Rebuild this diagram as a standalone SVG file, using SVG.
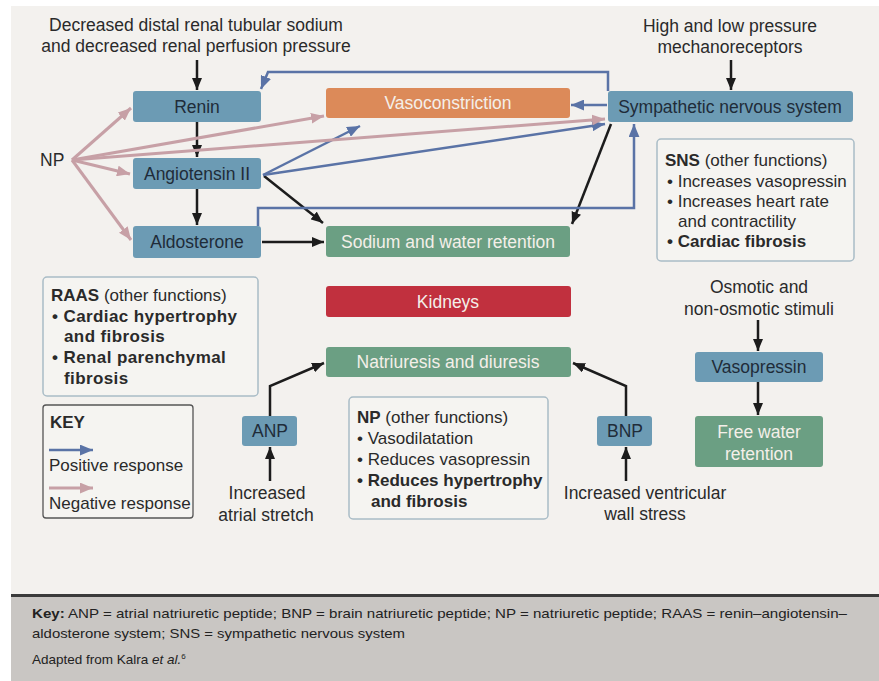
<svg xmlns="http://www.w3.org/2000/svg" width="879" height="681" viewBox="0 0 879 681">
<defs>
<marker id="hk" viewBox="0 0 12 10" refX="12" refY="5" markerWidth="12" markerHeight="10" orient="auto" markerUnits="userSpaceOnUse"><path d="M0,0 L12,5 L0,10 z" fill="#1c1c1c"/></marker>
<marker id="hb" viewBox="0 0 12 10" refX="12" refY="5" markerWidth="13" markerHeight="11" orient="auto" markerUnits="userSpaceOnUse"><path d="M0,0 L12,5 L0,10 z" fill="#5a73a6"/></marker>
<marker id="hp" viewBox="0 0 12 10" refX="12" refY="5" markerWidth="13" markerHeight="11" orient="auto" markerUnits="userSpaceOnUse"><path d="M0,0 L12,5 L0,10 z" fill="#c7a0a6"/></marker>
</defs>
<style>
text{font-family:"Liberation Sans",Arial,sans-serif;font-size:17.5px;fill:#2a2a2a}
.c{text-anchor:middle}
.dk{fill:#1f2c39}
.wt{fill:#f4efe9}
.b{font-weight:bold}
.i{font-size:17px}
.bw{letter-spacing:0.4px}
.nb{fill:#6c9bb4}
.ng{fill:#6b9f83}
.ln{fill:none;stroke-linejoin:miter}
.k{stroke:#1c1c1c;stroke-width:2.5;marker-end:url(#hk)}
.bl{stroke:#5a73a6;stroke-width:2.5;marker-end:url(#hb)}
.pk{stroke:#c7a0a6;stroke-width:3;marker-end:url(#hp)}
.info{fill:#f5f4f1;stroke:#a9bcc6;stroke-width:1.5}
.ft{font-size:13.5px;fill:#222}
</style>
<rect x="0" y="0" width="879" height="681" fill="#ffffff"/>
<rect x="11" y="6" width="868" height="589" fill="#f3f1ee"/>
<rect x="11" y="594" width="868" height="3.5" fill="#3a3a3a"/>
<rect x="11" y="597" width="868" height="84" fill="#c9c6c3"/>

<g id="top-left-label">
<text class="c" x="196" y="31">Decreased distal renal tubular sodium</text>
<text class="c" x="196" y="52">and decreased renal perfusion pressure</text>
</g>
<g id="top-right-label">
<text class="c" x="730" y="32">High and low pressure</text>
<text class="c" x="730" y="53">mechanoreceptors</text>
</g>
<g id="np-label"><text x="40" y="166">NP</text></g>

<g id="renin"><rect class="nb" x="133" y="91" width="128" height="31" rx="3"/><text class="c dk" x="197" y="113">Renin</text></g>
<g id="angiotensin"><rect class="nb" x="133" y="158" width="128" height="31" rx="3"/><text class="c dk" x="197" y="180">Angiotensin II</text></g>
<g id="aldosterone"><rect class="nb" x="133" y="226" width="128" height="32" rx="3"/><text class="c dk" x="197" y="248">Aldosterone</text></g>
<g id="vasoconstriction"><rect fill="#dc8a59" x="326" y="88" width="244" height="30" rx="3"/><text class="c wt" x="448" y="109">Vasoconstriction</text></g>
<g id="sodium"><rect class="ng" x="326" y="226" width="244" height="31" rx="3"/><text class="c wt" x="448" y="248">Sodium and water retention</text></g>
<g id="sns"><rect class="nb" x="608" y="91" width="245" height="31" rx="3"/><text class="c dk" x="730" y="113">Sympathetic nervous system</text></g>
<g id="kidneys"><rect fill="#c1303e" x="326" y="286" width="245" height="31" rx="3"/><text class="c wt" x="448" y="308">Kidneys</text></g>
<g id="natriuresis"><rect class="ng" x="326" y="347" width="245" height="30" rx="3"/><text class="c wt" x="448" y="368">Natriuresis and diuresis</text></g>
<g id="anp"><rect class="nb" x="242" y="416" width="55" height="30" rx="3"/><text class="c dk" x="270" y="437">ANP</text></g>
<g id="bnp"><rect class="nb" x="597" y="416" width="55" height="30" rx="3"/><text class="c dk" x="625" y="437">BNP</text></g>
<g id="vasopressin"><rect class="nb" x="695" y="352" width="128" height="30" rx="3"/><text class="c dk" x="759" y="373">Vasopressin</text></g>
<g id="free-water"><rect class="ng" x="695" y="416" width="128" height="51" rx="3"/><text class="c wt" x="759" y="438">Free water</text><text class="c wt" x="759" y="460">retention</text></g>

<g id="atrial-label"><text class="c" x="267" y="499">Increased</text><text class="c" x="266" y="521">atrial stretch</text></g>
<g id="ventricular-label"><text class="c" x="645" y="499">Increased ventricular</text><text class="c" x="645" y="520">wall stress</text></g>
<g id="osmotic-label"><text class="c" x="759" y="293">Osmotic and</text><text class="c" x="759" y="315">non-osmotic stimuli</text></g>

<g id="sns-box"><rect class="info" x="657" y="139" width="197" height="122" rx="4"/>
<text class="i" x="665" y="166"><tspan class="b">SNS</tspan> (other functions)</text>
<text class="i" x="667" y="187">• Increases vasopressin</text>
<text class="i" x="667" y="207">• Increases heart rate</text>
<text class="i" x="678" y="227">and contractility</text>
<text class="i b" x="667" y="247">• Cardiac fibrosis</text>
</g>
<g id="raas-box"><rect class="info" x="43" y="277" width="215" height="119" rx="4"/>
<text class="i" x="51" y="301"><tspan class="b">RAAS</tspan> (other functions)</text>
<text class="i b bw" x="52" y="322">• Cardiac hypertrophy</text>
<text class="i b bw" x="64" y="342">and fibrosis</text>
<text class="i b bw" x="52" y="363">• Renal parenchymal</text>
<text class="i b bw" x="64" y="384">fibrosis</text>
</g>
<g id="np-box"><rect class="info" x="349" y="397" width="199" height="122" rx="4"/>
<text class="i" x="357" y="423"><tspan class="b">NP</tspan> (other functions)</text>
<text class="i" x="357" y="444">• Vasodilatation</text>
<text class="i" x="357" y="465">• Reduces vasopressin</text>
<text class="i b" x="357" y="486">• Reduces hypertrophy</text>
<text class="i b" x="371" y="507">and fibrosis</text>
</g>
<g id="key-box"><rect x="43" y="405" width="150" height="113" rx="3" fill="#f5f4f1" stroke="#555" stroke-width="1.3"/>
<text class="i b" x="50" y="428">KEY</text>
<path class="ln bl" d="M49,450 L93,450"/>
<text class="i" x="49" y="471">Positive response</text>
<path class="ln pk" d="M49,488 L93,488"/>
<text class="i" x="49" y="509">Negative response</text>
</g>

<g id="connectors">
<path class="ln k" d="M197,60 L197,90"/>
<path class="ln k" d="M197,122 L197,157"/>
<path class="ln k" d="M197,189 L197,225"/>
<path class="ln k" d="M262,242 L324,242"/>
<path class="ln k" d="M264,176 L323,223"/>
<path class="ln k" d="M611,124 L572,224"/>
<path class="ln k" d="M731,60 L731,90"/>
<path class="ln k" d="M758,320 L758,351"/>
<path class="ln k" d="M758,382 L758,415"/>
<path class="ln k" d="M270,481 L270,447"/>
<path class="ln k" d="M270,416 L270,386 L324,363"/>
<path class="ln k" d="M626,481 L626,447"/>
<path class="ln k" d="M626,416 L626,386 L573,363"/>
<path class="ln bl" d="M607,105 L571,105"/>
<path class="ln bl" d="M608,91 L608,72 L268,72 L261,89"/>
<path class="ln bl" d="M258,226 L258,208 L634,208 L634,124"/>
<path class="ln bl" d="M263,175 L360,126"/>
<path class="ln bl" d="M263,175 L605,124"/>
<path class="ln pk" d="M72,160 L131,108"/>
<path class="ln pk" d="M72,160 L130,174"/>
<path class="ln pk" d="M72,160 L131,240"/>
<path class="ln pk" d="M72,160 L324,116"/>
<path class="ln pk" d="M72,160 L605,119"/>
</g>

<g id="footer">
<text class="ft" x="32" y="618" textLength="815" lengthAdjust="spacingAndGlyphs"><tspan class="b">Key:</tspan> ANP = atrial natriuretic peptide; BNP = brain natriuretic peptide; NP = natriuretic peptide; RAAS = renin–angiotensin–</text>
<text class="ft" x="32" y="638" textLength="373" lengthAdjust="spacingAndGlyphs">aldosterone system; SNS = sympathetic nervous system</text>
<text class="ft" x="32" y="664">Adapted from Kalra <tspan font-style="italic">et al.</tspan><tspan font-size="8" dy="-5">6</tspan></text>
</g>
</svg>
